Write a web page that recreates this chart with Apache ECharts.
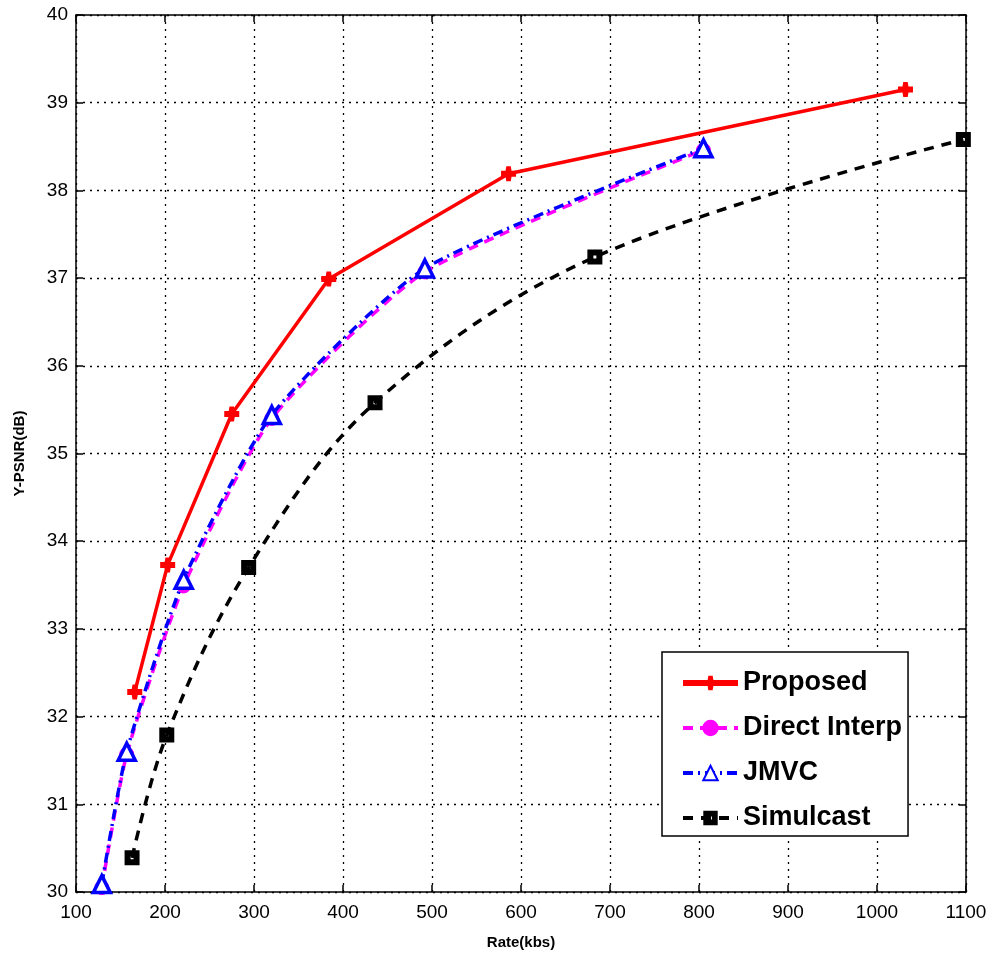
<!DOCTYPE html>
<html><head><meta charset="utf-8">
<script src="https://cdn.jsdelivr.net/npm/echarts@6/dist/echarts.min.js"></script>
<style>html,body{margin:0;padding:0;background:#fff}#c{width:990px;height:957px}</style>
</head><body><div id="c"></div>
<script>
const seriesNames = ['Proposed', 'Direct Interp', 'JMVC', 'Simulcast'];
const proposedRate = [166, 203, 275, 384, 586, 1032];
const proposedPsnr = [32.28, 33.73, 35.45, 36.99, 38.19, 39.15];
const directRate = [129, 157, 221, 320, 492, 805];
const directPsnr = [30.05, 31.57, 33.49, 35.40, 37.07, 38.46];
const jmvcRate = [129, 157, 221, 320, 492, 805];
const jmvcPsnr = [30.09, 31.60, 33.56, 35.44, 37.11, 38.48];
const simulRate = [163, 202, 294, 436, 683, 1097];
const simulPsnr = [30.39, 31.79, 33.70, 35.58, 37.24, 38.58];
const xTicks = [100, 200, 300, 400, 500, 600, 700, 800, 900, 1000, 1100];
const yTicks = [30, 31, 32, 33, 34, 35, 36, 37, 38, 39, 40];

const pair = (xs, ys) => xs.map((x, i) => [x, ys[i]]);
const FONT = '"Liberation Sans", Arial, Helvetica, sans-serif';
const grid = {left: 76, right: 24, top: 15, bottom: 65};
const axisBase = {
  axisLine: {show: true, lineStyle: {color: '#000', width: 1.5}},
  axisTick: {show: true, inside: true, length: 7, lineStyle: {color: '#000', width: 1.5}},
};
const PLUS = 'path://M3.5,0h3l0.5,3h3v4h-3l-0.5,3h-3l-0.5,-3h-3v-4h3z';
const SQUARE = 'path://M0,0h10v10h-10z M4,4v2h2v-2z';
const chart = echarts.init(document.getElementById('c'));
chart.setOption({
  animation: false,
  backgroundColor: '#fff',
  grid: grid,
  legend: {
    orient: 'vertical', left: 662, top: 652,
    backgroundColor: '#fff', borderColor: '#000', borderWidth: 1.5,
    padding: [14, 6, 1, 18],
    itemWidth: 55, itemHeight: 18, itemGap: 11,
    textStyle: {fontFamily: FONT, fontSize: 27, fontWeight: 'bold', color: '#000', lineHeight: 34},
    data: [
      {name: 'Proposed', lineStyle: {width: 6}},
      {name: 'Direct Interp', lineStyle: {width: 4}},
      {name: 'JMVC', lineStyle: {width: 4}},
      {name: 'Simulcast', lineStyle: {width: 4}}
    ]
  },
  xAxis: [
    Object.assign({
      type: 'value', min: xTicks[0], max: xTicks[xTicks.length - 1], interval: 100,
      name: 'Rate(kbs)', nameLocation: 'middle', nameGap: 43,
      nameTextStyle: {fontFamily: FONT, fontSize: 15, fontWeight: 'bold', color: '#000'},
      axisLabel: {fontFamily: FONT, fontSize: 19, color: '#000', margin: 11, formatter: v => String(v)},
      splitLine: {show: true, lineStyle: {color: '#000', width: 1.3, type: [2, 5]}}
    }, axisBase),
    Object.assign({
      type: 'value', position: 'top', min: xTicks[0], max: xTicks[xTicks.length - 1], interval: 100,
      axisLabel: {show: false}, splitLine: {show: false}
    }, axisBase)
  ],
  yAxis: [
    Object.assign({
      type: 'value', min: yTicks[0], max: yTicks[yTicks.length - 1], interval: 1,
      name: 'Y-PSNR(dB)', nameLocation: 'middle', nameGap: 49,
      nameTextStyle: {fontFamily: FONT, fontSize: 15, fontWeight: 'bold', color: '#000'},
      axisLabel: {fontFamily: FONT, fontSize: 19, color: '#000', margin: 8, formatter: v => String(v)},
      splitLine: {show: true, lineStyle: {color: '#000', width: 1.3, type: [2, 5]}}
    }, axisBase),
    Object.assign({
      type: 'value', position: 'right', min: yTicks[0], max: yTicks[yTicks.length - 1], interval: 1,
      axisLabel: {show: false}, splitLine: {show: false}
    }, axisBase)
  ],
  series: [
    {
      name: 'Simulcast', type: 'line', data: pair(simulRate, simulPsnr), smooth: 0.35, z: 2,
      lineStyle: {color: '#000', width: 3.5, type: [10, 8]},
      itemStyle: {color: '#000', borderWidth: 0},
      symbol: SQUARE, symbolSize: 15
    },
    {
      name: 'JMVC', type: 'line', data: pair(jmvcRate, jmvcPsnr), smooth: 0.2, z: 4,
      lineStyle: {color: '#0000ff', width: 3.5, type: [10, 5, 2, 5]},
      itemStyle: {color: '#fff', borderColor: '#0000ff', borderWidth: 3.5},
      symbol: 'triangle', symbolSize: 17
    },
    {
      name: 'Direct Interp', type: 'line', data: pair(directRate, directPsnr), smooth: 0.2, z: 3,
      lineStyle: {color: '#ff00ff', width: 3.5, type: [10, 7]},
      itemStyle: {color: '#ff00ff', borderColor: '#ff00ff', borderWidth: 1},
      symbol: 'circle', symbolSize: 14
    },
    {
      name: 'Proposed', type: 'line', data: pair(proposedRate, proposedPsnr), z: 5,
      lineStyle: {color: '#ff0000', width: 3.5},
      itemStyle: {color: '#ff0000', borderColor: '#ff0000', borderWidth: 0},
      symbol: PLUS, symbolSize: 15
    }
  ]
});
</script></body></html>
